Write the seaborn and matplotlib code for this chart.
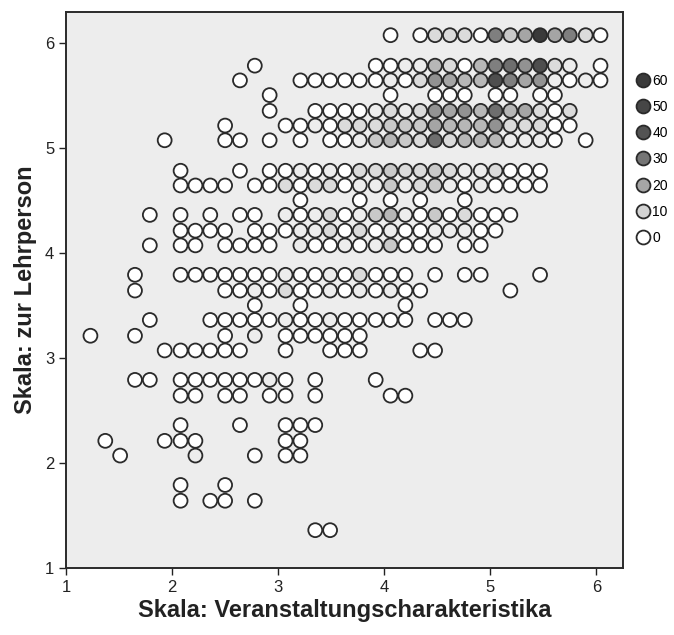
import pandas as pd
import matplotlib
matplotlib.use('Agg')
import matplotlib.pyplot as plt
from matplotlib.colors import LinearSegmentedColormap
from matplotlib.lines import Line2D
import seaborn as sns

# bin centres (x = Veranstaltungscharakteristika, y = zur Lehrperson)
x_bins = [1.23, 1.37, 1.51, 1.65, 1.79, 1.93, 2.08, 2.22, 2.36, 2.50, 2.64, 2.78,
          2.92, 3.07, 3.21, 3.35, 3.49, 3.63, 3.77, 3.92, 4.06, 4.20, 4.34, 4.48,
          4.62, 4.76, 4.91, 5.05, 5.19, 5.33, 5.47, 5.61, 5.75, 5.90, 6.04]
y_bins = [6.07, 5.92, 5.78, 5.64, 5.50, 5.35, 5.21, 5.07, 4.93, 4.78, 4.64, 4.50,
          4.36, 4.21, 4.07, 3.93, 3.79, 3.64, 3.50, 3.36, 3.21, 3.07, 2.93, 2.79,
          2.64, 2.50, 2.36, 2.21, 2.07, 1.93, 1.79, 1.64, 1.50, 1.36]

# one string per y bin, one char per x bin: '.' = no dot, hex digit = count / 4
rows = [
    "....................0.02220735f5720",
    "...................................",
    "...........0.......00114204786b21.0",
    "..........0...0000001026544b7561010",
    "............0.......0..000.00.00...",
    "............0..000012126564845202..",
    ".........0...00102223335444622200..",
    ".....0...00.0.0.0013432824441110.0.",
    "...................................",
    "......0...0.0010102232232112000....",
    "......0000.00202201131231010000....",
    "..............0...0.0.0..0.........",
    "....0.0.0.00.1012013410302000......",
    "......0000.00011202010011100.......",
    "....0.00.0000.1001013000.00........",
    "...................................",
    "...0..0000000100102000.0.00...0....",
    "...0.....00102001010100.....0......",
    "...........0..0......0.............",
    "....0...00000100100000.000.........",
    "0..0.....0.1.000000................",
    ".....000000..0..000...00...........",
    "...................................",
    "...00.00000010.0...0...............",
    "......00.00.00.0....00.............",
    "...................................",
    "......0...0..000...................",
    ".0...000.....00....................",
    "..0....1...0.00....................",
    "...................................",
    "......0..0.........................",
    "......0.00.0.......................",
    "...................................",
    "...............00..................",
]

legend_counts = [60, 50, 40, 30, 20, 10, 0]

records = []
for y, row in zip(y_bins, rows):
    for x, ch in zip(x_bins, row):
        if ch != '.':
            records.append({'x': x, 'y': y, 'count': 4 * int(ch, 16)})
df = pd.DataFrame(records)

# grey ramp as in the legend (0 white ... 60 almost black)
cmap = LinearSegmentedColormap.from_list('spss_grey', [
    (0.0, '#ffffff'), (10 / 60, '#d2d2d2'), (20 / 60, '#a5a5a5'),
    (30 / 60, '#757575'), (40 / 60, '#535353'), (50 / 60, '#464646'),
    (1.0, '#3a3a3a')])

plt.rcParams['font.family'] = ['Liberation Sans', 'DejaVu Sans']

fig = plt.figure(figsize=(6.74, 6.35), dpi=100)
ax = fig.add_axes([0.098, 0.1055, 0.826, 0.8755])
ax.set_facecolor('#ededed')

sns.scatterplot(data=df, x='x', y='y', hue='count', palette=cmap, hue_norm=(0, 60),
                s=100, edgecolor='#2a2a2a', linewidth=1.3, legend=False, ax=ax,
                zorder=3)

ax.set_xlim(1, 6.25)
ax.set_ylim(1, 6.29)
ax.set_xticks([1, 2, 3, 4, 5, 6])
ax.set_yticks([1, 2, 3, 4, 5, 6])
ax.tick_params(direction='out', length=5, width=1, labelsize=12, colors='#222222')
for sp in ax.spines.values():
    sp.set_color('#2a2a2a')
    sp.set_linewidth(1.4)

ax.set_xlabel('Skala: Veranstaltungscharakteristika', fontsize=17, fontweight='bold',
              color='#222222', labelpad=3)
ax.set_ylabel('Skala: zur Lehrperson', fontsize=17, fontweight='bold',
              color='#222222', labelpad=6)

handles = [Line2D([], [], marker='o', linestyle='', markersize=10,
                  markerfacecolor=cmap(c / 60), markeredgecolor='#2a2a2a',
                  markeredgewidth=1.3) for c in legend_counts]
fig.legend(handles, [str(c) for c in legend_counts], loc='upper left',
           bbox_to_anchor=(0.944, 0.884), frameon=False, fontsize=10,
           borderpad=0, handlelength=1.0, handletextpad=0.15, labelspacing=0.88,
           borderaxespad=0)

fig.savefig('out.png', dpi=100)
plt.close(fig)
